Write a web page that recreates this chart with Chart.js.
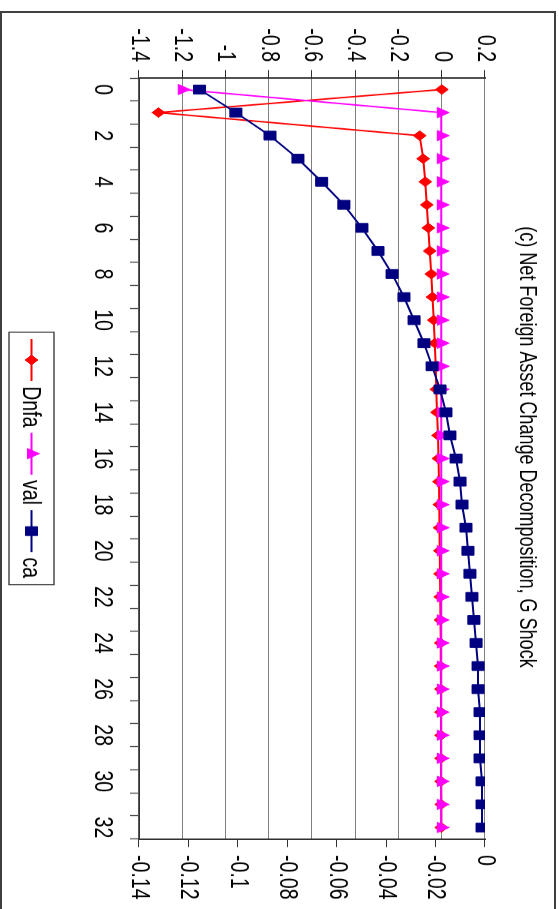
<!DOCTYPE html>
<html>
<head>
<meta charset="utf-8">
<script src="https://cdn.jsdelivr.net/npm/chart.js@4.4.1/dist/chart.umd.min.js"></script>
<style>
  html, body { margin: 0; padding: 0; background: #fff; overflow: hidden; width: 559px; height: 909px; }
  #wrap { position: absolute; left: 0; top: 0; width: 1212px; height: 559px;
          transform-origin: 0 0; transform: translate(559px, 0) rotate(90deg) scale(0.75, 1); }
  #c { position: absolute; left: -40px; top: 0; }
  #frame { position: absolute; left: 0; top: 11px; width: 556px; height: 1000px; box-sizing: border-box;
           border: 2px solid #404040; border-bottom: none; pointer-events: none; }
</style>
</head>
<body>
<div id="wrap"><canvas id="c" width="1252" height="559"></canvas></div>
<div id="frame"></div>
<script>
// ---- data ----
const periods = [0,1,2,3,4,5,6,7,8,9,10,11,12,13,14,15,16,17,18,19,20,21,22,23,24,25,26,27,28,29,30,31,32];
const dnfa = [0, -1.31, -0.102, -0.086, -0.076, -0.069, -0.062, -0.056, -0.048, -0.043, -0.037, -0.032, -0.028,
              -0.025, -0.022, -0.017, -0.015, -0.013, -0.011, -0.010, -0.009, -0.008, -0.007, -0.006, -0.005,
              -0.005, -0.004, -0.004, -0.003, -0.003, -0.003, -0.002, -0.002];
const val = [-1.20, -0.002, -0.002, -0.002, -0.002, -0.002, -0.002, -0.002, -0.002, -0.002, -0.002, -0.002, -0.002,
             -0.002, -0.002, -0.002, -0.002, -0.002, -0.002, -0.002, -0.002, -0.002, -0.002, -0.002, -0.002,
             -0.002, -0.002, -0.002, -0.002, -0.002, -0.002, -0.002, -0.002];
const ca = [-0.1155, -0.1008, -0.087, -0.0757, -0.0661, -0.0571, -0.0498, -0.0433, -0.0376, -0.0328, -0.0287,
            -0.0247, -0.0214, -0.0182, -0.0158, -0.0142, -0.0117, -0.0101, -0.0093, -0.0077, -0.0069, -0.0061,
            -0.0053, -0.0045, -0.0036, -0.0028, -0.0028, -0.0020, -0.0020, -0.0020, -0.0012, -0.0012, -0.0012];
const leftTicks = { min: -1.4, max: 0.2, step: 0.2 };
const rightTicks = { min: -0.14, max: 0, step: 0.02 };
const seriesNames = ['Dnfa', 'val', 'ca'];
const titleText = '(c) Net Foreign Asset Change Decomposition, G Shock';

const FONT = '"Liberation Sans", Arial, Helvetica, sans-serif';
const DARK = '#303030';
const SHIFT = 40; // canvas starts 40 logical px left of the visible frame

const lineLegend = {
  id: 'lineLegend',
  afterDraw(chart) {
    const ctx = chart.ctx;
    const ds = chart.data.datasets;
    ctx.save();
    ctx.font = '26px ' + FONT;
    const lineLen = 56, gapA = 7, gapB = 7, padX = 9;
    let w = padX;
    ds.forEach((d, i) => { w += lineLen + gapA + ctx.measureText(d.label).width + (i < ds.length - 1 ? gapB : 0); });
    w += 9;
    const boxX = 443 + SHIFT, boxY = 505, boxH = 45;
    ctx.strokeStyle = DARK; ctx.lineWidth = 1.3;
    ctx.strokeRect(boxX, boxY, w, boxH);
    let x = boxX + padX;
    const cy = boxY + boxH / 2;
    ds.forEach(d => {
      ctx.strokeStyle = d.borderColor; ctx.lineWidth = 2.2;
      ctx.beginPath(); ctx.moveTo(x, cy); ctx.lineTo(x + lineLen, cy); ctx.stroke();
      ctx.fillStyle = d.pointBackgroundColor; ctx.strokeStyle = d.pointBorderColor; ctx.lineWidth = 1;
      Chart.helpers.drawPoint(ctx, { pointStyle: d.pointStyle, radius: d.pointRadius, rotation: 0, borderWidth: 1 }, x + lineLen / 2, cy);
      x += lineLen + gapA;
      ctx.fillStyle = '#000'; ctx.textBaseline = 'middle'; ctx.textAlign = 'left';
      ctx.fillText(d.label, x, cy + 1);
      x += ctx.measureText(d.label).width + gapB;
    });
    ctx.restore();
  }
};

new Chart(document.getElementById('c'), {
  type: 'line',
  data: {
    labels: periods,
    datasets: [
      { label: seriesNames[0], data: dnfa, yAxisID: 'y', order: 3,
        borderColor: '#ff0000', backgroundColor: '#ff0000', borderWidth: 2,
        pointStyle: 'rectRot', pointRadius: 6.5, pointBackgroundColor: '#ff0000', pointBorderColor: '#ff0000', pointBorderWidth: 1 },
      { label: seriesNames[1], data: val, yAxisID: 'y', order: 2,
        borderColor: '#ff00ff', backgroundColor: '#ff00ff', borderWidth: 2,
        pointStyle: 'triangle', pointRadius: 8, pointBackgroundColor: '#ff00ff', pointBorderColor: '#ff00ff', pointBorderWidth: 1 },
      { label: seriesNames[2], data: ca, yAxisID: 'y1', order: 1,
        borderColor: '#000080', backgroundColor: '#000080', borderWidth: 2,
        pointStyle: 'rect', pointRadius: 8.5, pointBackgroundColor: '#000080', pointBorderColor: '#000080', pointBorderWidth: 1 }
    ]
  },
  options: {
    responsive: false,
    animation: false,
    devicePixelRatio: 1,
    elements: { line: { tension: 0 } },
    layout: { padding: { left: 20, right: 0, top: 4, bottom: 0 } },
    plugins: {
      legend: { display: false },
      tooltip: { enabled: false },
      title: { display: true, text: titleText, color: '#000',
               font: { family: FONT, size: 24, weight: 'normal' }, padding: { top: 13.5, bottom: 27.7 } }
    },
    scales: {
      x: {
        type: 'category', offset: true,
        grid: { offset: true, drawOnChartArea: false, drawTicks: true, tickLength: 9, tickColor: DARK, tickWidth: 1.3 },
        border: { display: true, color: DARK, width: 1.5 },
        ticks: { autoSkip: false, maxRotation: 0, minRotation: 0, color: '#000', padding: 12,
                 font: { family: FONT, size: 26 },
                 callback: function (v, i) { return i % 2 === 0 ? String(periods[i]) : ''; } },
        afterFit: s => { s.height = 139; }
      },
      y: {
        position: 'left', min: leftTicks.min, max: leftTicks.max,
        ticks: { stepSize: leftTicks.step, color: '#000', padding: 10.7, font: { family: FONT, size: 26 },
                 callback: v => String(Math.round(v * 10) / 10) },
        grid: { color: '#808080', lineWidth: 1, tickLength: 10.7, tickColor: DARK, drawTicks: true },
        border: { display: true, color: DARK, width: 2 },
        afterFit: s => { s.width = 104 + SHIFT - 20; }
      },
      y1: {
        position: 'right', min: rightTicks.min, max: rightTicks.max,
        ticks: { stepSize: rightTicks.step, color: '#000', padding: 10.7, font: { family: FONT, size: 26 },
                 callback: v => String(Math.round(v * 100) / 100) },
        grid: { drawOnChartArea: false, tickLength: 10.7, tickColor: DARK, drawTicks: true },
        border: { display: true, color: DARK, width: 2 },
        afterFit: s => { s.width = 1252 - (1118.7 + SHIFT); }
      }
    }
  },
  plugins: [lineLegend]
});
</script>
</body>
</html>
